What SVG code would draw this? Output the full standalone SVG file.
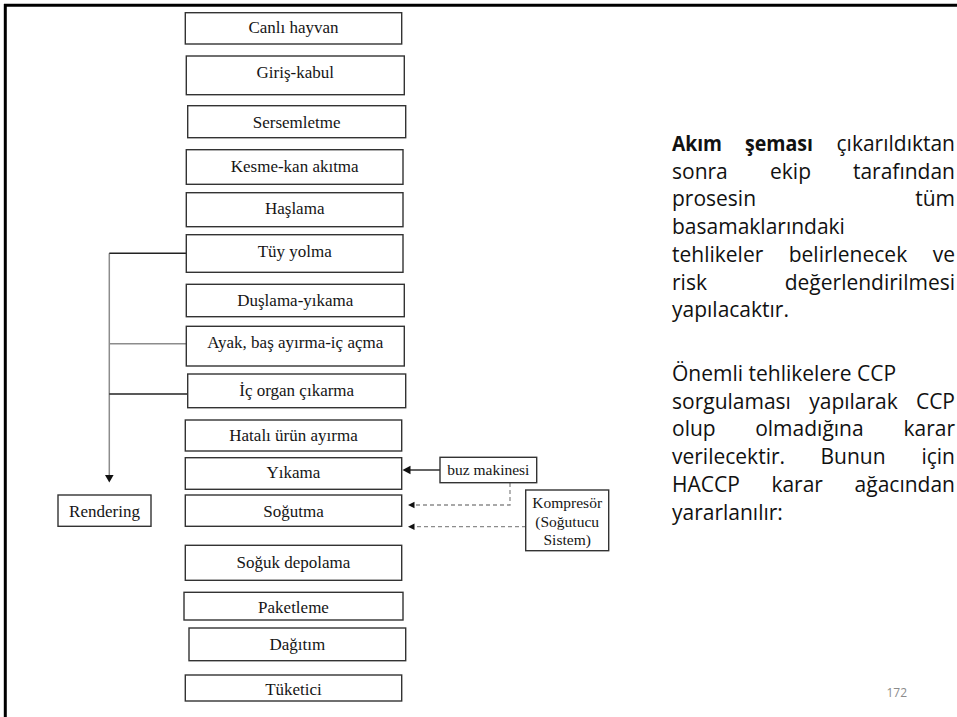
<svg xmlns="http://www.w3.org/2000/svg" width="957" height="717" viewBox="0 0 957 717">
<style>
.box{fill:#fff;stroke:#333;stroke-width:1.4}
.lbl{font-family:"Liberation Serif","Times New Roman",serif;font-size:17px;fill:#151515;text-anchor:middle}
.sm{font-size:15.5px}
.para{font-family:"Open Sans","Noto Sans",sans-serif;font-size:21px;fill:#111}
.b{font-weight:bold}
.end{text-anchor:end}
.dk{stroke:#222;stroke-width:1.4;fill:none}
.gr{stroke:#8c8c8c;stroke-width:1.5;fill:none}
.ds{stroke:#8c8c8c;stroke-width:1.3;fill:none;stroke-dasharray:4 3}
.ah{fill:#111}
</style>
<rect width="957" height="717" fill="#fff"/>
<g id="frame">
<line x1="4" y1="5.3" x2="957" y2="5.3" stroke="#000" stroke-width="3"/>
<line x1="5.3" y1="4" x2="5.3" y2="717" stroke="#000" stroke-width="3"/>
</g>
<g id="connectors">
<line class="gr" x1="109.3" y1="253.3" x2="109.3" y2="476"/>
<line class="dk" x1="109.3" y1="253.3" x2="186" y2="253.3"/>
<line class="gr" x1="109.3" y1="343.7" x2="186" y2="343.7"/>
<line class="dk" x1="109.3" y1="394" x2="189" y2="394"/>
<polygon class="ah" points="105,475 113.6,475 109.3,482.5"/>
<line class="dk" x1="440" y1="470" x2="409" y2="470"/>
<polygon class="ah" points="402.5,470 410.5,465.8 410.5,474.2"/>
<polyline class="ds" points="510,483 510,505 414,505"/>
<polygon class="ah" points="408,505 414.5,501.8 414.5,508.2"/>
<line class="ds" x1="526" y1="526.7" x2="414" y2="526.7"/>
<polygon class="ah" points="408,526.7 414.5,523.5 414.5,529.9"/>
</g>
<g id="n1"><rect class="box" x="185.3" y="12.7" width="216.4" height="31.3"/><text class="lbl" x="293.5" y="33.3">Canlı hayvan</text></g>
<g id="n2"><rect class="box" x="186.3" y="56" width="218" height="38.7"/><text class="lbl" x="295.3" y="78.3">Giriş-kabul</text></g>
<g id="n3"><rect class="box" x="187.7" y="105.7" width="218" height="32"/><text class="lbl" x="296.7" y="127.7">Sersemletme</text></g>
<g id="n4"><rect class="box" x="186.3" y="149.7" width="216.7" height="34.6"/><text class="lbl" x="294.7" y="171.7">Kesme-kan akıtma</text></g>
<g id="n5"><rect class="box" x="186.3" y="192.7" width="216.7" height="34"/><text class="lbl" x="294.7" y="214.3">Haşlama</text></g>
<g id="n6"><rect class="box" x="186.3" y="234.7" width="216.7" height="37.6"/><text class="lbl" x="294.7" y="257.3">Tüy yolma</text></g>
<g id="n7"><rect class="box" x="186.3" y="284.3" width="218" height="32.4"/><text class="lbl" x="295.3" y="306">Duşlama-yıkama</text></g>
<g id="n8"><rect class="box" x="186.3" y="326.3" width="218" height="39.7"/><text class="lbl" x="295.3" y="348.3">Ayak, baş ayırma-iç açma</text></g>
<g id="n9"><rect class="box" x="187.7" y="374" width="218" height="33.7"/><text class="lbl" x="296.7" y="395.7">İç organ çıkarma</text></g>
<g id="n10"><rect class="box" x="185.3" y="420" width="216.4" height="31"/><text class="lbl" x="293.5" y="440.7">Hatalı ürün ayırma</text></g>
<g id="n11"><rect class="box" x="185.3" y="457.7" width="216.4" height="31.6"/><text class="lbl" x="293.5" y="478.3">Yıkama</text></g>
<g id="n12"><rect class="box" x="185.3" y="495" width="216.4" height="31.3"/><text class="lbl" x="293.5" y="516.7">Soğutma</text></g>
<g id="n13"><rect class="box" x="185.3" y="545.3" width="216.4" height="35"/><text class="lbl" x="293.5" y="568.3">Soğuk depolama</text></g>
<g id="n14"><rect class="box" x="184" y="592.3" width="219" height="27.7"/><text class="lbl" x="293.5" y="613.3">Paketleme</text></g>
<g id="n15"><rect class="box" x="189" y="628" width="216.7" height="32.7"/><text class="lbl" x="297.3" y="650">Dağıtım</text></g>
<g id="n16"><rect class="box" x="185.3" y="675" width="216.4" height="26"/><text class="lbl" x="293.5" y="695">Tüketici</text></g>
<g id="rendering"><rect class="box" x="58" y="495" width="93" height="31.3"/><text class="lbl" x="104.5" y="516.7">Rendering</text></g>
<g id="buz"><rect class="box" x="440" y="457.3" width="96.7" height="25.4"/><text class="lbl sm" x="488.3" y="475">buz makinesi</text></g>
<g id="kompresor"><rect class="box" x="525.7" y="490" width="83" height="60.7"/><text class="lbl sm" x="567.2" y="508.3">Kompresör</text><text class="lbl sm" x="567.2" y="526.5">(Soğutucu</text><text class="lbl sm" x="567.2" y="544.5">Sistem)</text></g>
<g id="description">
<text class="para b" x="672" y="151" textLength="50" lengthAdjust="spacingAndGlyphs">Akım</text><text class="para b" x="745" y="151" textLength="68" lengthAdjust="spacingAndGlyphs">şeması</text><text class="para end" x="955" y="151">çıkarıldıktan</text>
<text class="para" x="672" y="178.7">sonra</text><text class="para" x="770" y="178.7">ekip</text><text class="para end" x="955" y="178.7">tarafından</text>
<text class="para" x="672" y="206.4">prosesin</text><text class="para end" x="955" y="206.4">tüm</text>
<text class="para" x="672" y="234.1">basamaklarındaki</text>
<text class="para" x="672" y="261.8">tehlikeler</text><text class="para" x="788.7" y="261.8">belirlenecek</text><text class="para end" x="955" y="261.8">ve</text>
<text class="para" x="672" y="289.5">risk</text><text class="para end" x="955" y="289.5">değerlendirilmesi</text>
<text class="para" x="672" y="317.2">yapılacaktır.</text>
<text class="para" x="672" y="381">Önemli tehlikelere CCP</text>
<text class="para" x="672" y="408.7">sorgulaması</text><text class="para" x="809.2" y="408.7">yapılarak</text><text class="para end" x="955" y="408.7">CCP</text>
<text class="para" x="672" y="436.4">olup</text><text class="para" x="755.2" y="436.4">olmadığına</text><text class="para end" x="955" y="436.4">karar</text>
<text class="para" x="672" y="464.1">verilecektir.</text><text class="para" x="820.5" y="464.1">Bunun</text><text class="para end" x="955" y="464.1">için</text>
<text class="para" x="672" y="491.8">HACCP</text><text class="para" x="771.4" y="491.8">karar</text><text class="para end" x="955" y="491.8">ağacından</text>
<text class="para" x="672" y="519.5">yararlanılır:</text>
</g>
<g id="page"><text x="907" y="697" style="font-family:'Open Sans',sans-serif;font-size:12px;fill:#8b8b8b;text-anchor:end">172</text></g>
</svg>
